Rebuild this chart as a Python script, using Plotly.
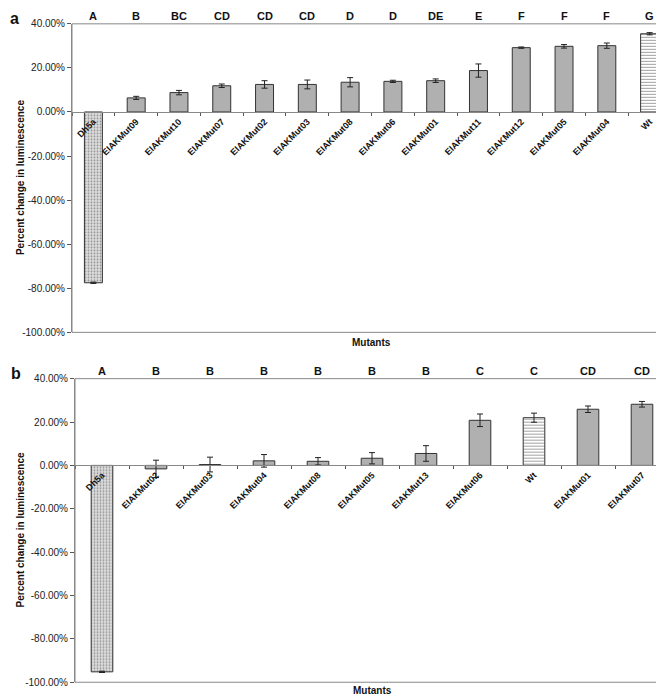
import plotly.graph_objects as go

W, H = 664, 696

# ---------- data: panel a ----------
cats_a = ["Dh5a", "EIAKMut09", "EIAKMut10", "EIAKMut07", "EIAKMut02", "EIAKMut03",
          "EIAKMut08", "EIAKMut06", "EIAKMut01", "EIAKMut11", "EIAKMut12",
          "EIAKMut05", "EIAKMut04", "Wt"]
vals_a = [-77.5, 6.4, 8.8, 11.9, 12.5, 12.5, 13.5, 13.9, 14.2, 18.8, 29.2, 29.8, 30.1, 35.5]
errs_a = [0.3, 0.7, 1.0, 0.8, 1.7, 2.0, 2.1, 0.5, 0.8, 3.0, 0.3, 0.8, 1.2, 0.5]
grp_a = ["A", "B", "BC", "CD", "CD", "CD", "D", "D", "DE", "E", "F", "F", "F", "G"]

# ---------- data: panel b ----------
cats_b = ["Dh5a", "EIAKMut02", "EIAKMut03", "EIAKMut04", "EIAKMut08", "EIAKMut05",
          "EIAKMut13", "EIAKMut06", "Wt", "EIAKMut01", "EIAKMut07"]
vals_b = [-95.2, -1.6, 0.4, 2.1, 1.9, 3.3, 5.5, 20.8, 22.0, 25.9, 28.2]
errs_b = [0.3, 4.0, 3.4, 2.9, 1.7, 2.6, 3.6, 2.9, 2.1, 1.5, 1.3]
grp_b = ["A", "B", "B", "B", "B", "B", "B", "C", "C", "CD", "CD"]

y_ticks = [-100, -80, -60, -40, -20, 0, 20, 40]
y_ticktext = [f"{v:.2f}%" for v in y_ticks]
y_range = [-100, 40]

FONT = "Liberation Sans, Arial"


def px_x(p):
    return p / W


def px_y(p):
    return 1 - p / H


def style(cats):
    colors, shapes, fg, sol, size = [], [], [], [], []
    for c in cats:
        if c == "Dh5a":
            colors.append("#dedede"); shapes.append("."); fg.append("#8c8c8c")
            sol.append(0.3); size.append(3)
        elif c == "Wt":
            colors.append("#ffffff"); shapes.append("-"); fg.append("#444444")
            sol.append(0.35); size.append(3)
        else:
            colors.append("#b0b0b0"); shapes.append(""); fg.append("#b0b0b0")
            sol.append(0.3); size.append(3)
    return colors, shapes, fg, sol, size


fig = go.Figure()

panels = [
    dict(cats=cats_a, vals=vals_a, errs=errs_a, grp=grp_a, xa="x", ya="y",
         xd=(64, 663), yd=(11, 324), width=0.42, label="a", lab_xy=(7, 6),
         mut_xy=(363, 334)),
    dict(cats=cats_b, vals=vals_b, errs=errs_b, grp=grp_b, xa="x2", ya="y2",
         xd=(67, 661), yd=(371, 679), width=0.4, label="b", lab_xy=(8, 366),
         mut_xy=(365, 687)),
]

annotations = []
shapes_list = []
for i, p in enumerate(panels):
    colors, pshapes, fg, sol, size = style(p["cats"])
    fig.add_trace(go.Bar(
        x=p["cats"], y=p["vals"], xaxis=p["xa"], yaxis=p["ya"], width=p["width"],
        marker=dict(color=colors, line=dict(color="#333333", width=1),
                    pattern=dict(shape=pshapes, fillmode="overlay", fgcolor=fg,
                                 size=size, solidity=sol)),
        error_y=dict(type="data", array=p["errs"], visible=True, color="#222222",
                     thickness=1, width=3),
        showlegend=False,
    ))
    suffix = "" if i == 0 else "2"
    ydom = [px_y(p["yd"][1]), px_y(p["yd"][0])]
    xdom = [px_x(p["xd"][0]), px_x(p["xd"][1])]
    zero_pos = ydom[0] + (0 - y_range[0]) / (y_range[1] - y_range[0]) * (ydom[1] - ydom[0])
    fig.update_layout(**{
        "xaxis" + suffix: dict(
            domain=xdom, type="category", anchor="free", position=zero_pos,
            categoryorder="array", categoryarray=p["cats"],
            showline=True, linecolor="#888888", linewidth=1,
            tickson="boundaries", ticks="outside", ticklen=3, tickcolor="#555555",
            tickangle=-45, tickfont=dict(family=FONT, size=9,
                                         color="#111111", weight="bold"),
            showgrid=False, zeroline=False, fixedrange=True,
            range=[-0.5, len(p["cats"]) - 0.5],
        ),
        "yaxis" + suffix: dict(
            domain=ydom, anchor=p["xa"], range=y_range, tickvals=y_ticks,
            ticktext=y_ticktext, ticks="outside", ticklen=4,
            tickcolor="#555555", showline=True, linecolor="#888888", linewidth=1,
            showgrid=False, zeroline=False,
            tickfont=dict(family=FONT, size=10, color="#222222"),
        ),
    })
    # frame
    shapes_list.append(dict(type="rect", xref=p["xa"] + " domain", yref=p["ya"] + " domain",
                            x0=0, x1=1, y0=0, y1=1, line=dict(color="#888888", width=1),
                            fillcolor="rgba(0,0,0,0)", layer="above"))
    # group letters
    for c, g in zip(p["cats"], p["grp"]):
        annotations.append(dict(x=c, y=1, xref=p["xa"], yref=p["ya"] + " domain",
                                text=g, showarrow=False, yanchor="bottom", yshift=0,
                                font=dict(family=FONT, size=11,
                                          color="#111111", weight="bold")))
    # panel label
    annotations.append(dict(x=px_x(p["lab_xy"][0]), y=px_y(p["lab_xy"][1]),
                            xref="paper", yref="paper", text=p["label"], showarrow=False,
                            xanchor="center", yanchor="middle",
                            font=dict(family=FONT, size=16,
                                      color="#111111", weight="bold")))
    # y title
    annotations.append(dict(x=px_x(12), y=(ydom[0] + ydom[1]) / 2, xref="paper",
                            yref="paper", text="Percent change in luminescence",
                            textangle=-90, showarrow=False, xanchor="center",
                            yanchor="middle",
                            font=dict(family=FONT, size=10,
                                      color="#111111", weight="bold")))
    # x title
    annotations.append(dict(x=px_x(p["mut_xy"][0]), y=px_y(p["mut_xy"][1]), xref="paper",
                            yref="paper", text="Mutants", showarrow=False,
                            xanchor="center", yanchor="middle",
                            font=dict(family=FONT, size=10,
                                      color="#111111", weight="bold")))

fig.update_layout(
    width=W, height=H, margin=dict(l=0, r=0, t=0, b=0),
    paper_bgcolor="white", plot_bgcolor="white",
    annotations=annotations, shapes=shapes_list, bargap=0.5,
)

fig.write_html("out.html")
